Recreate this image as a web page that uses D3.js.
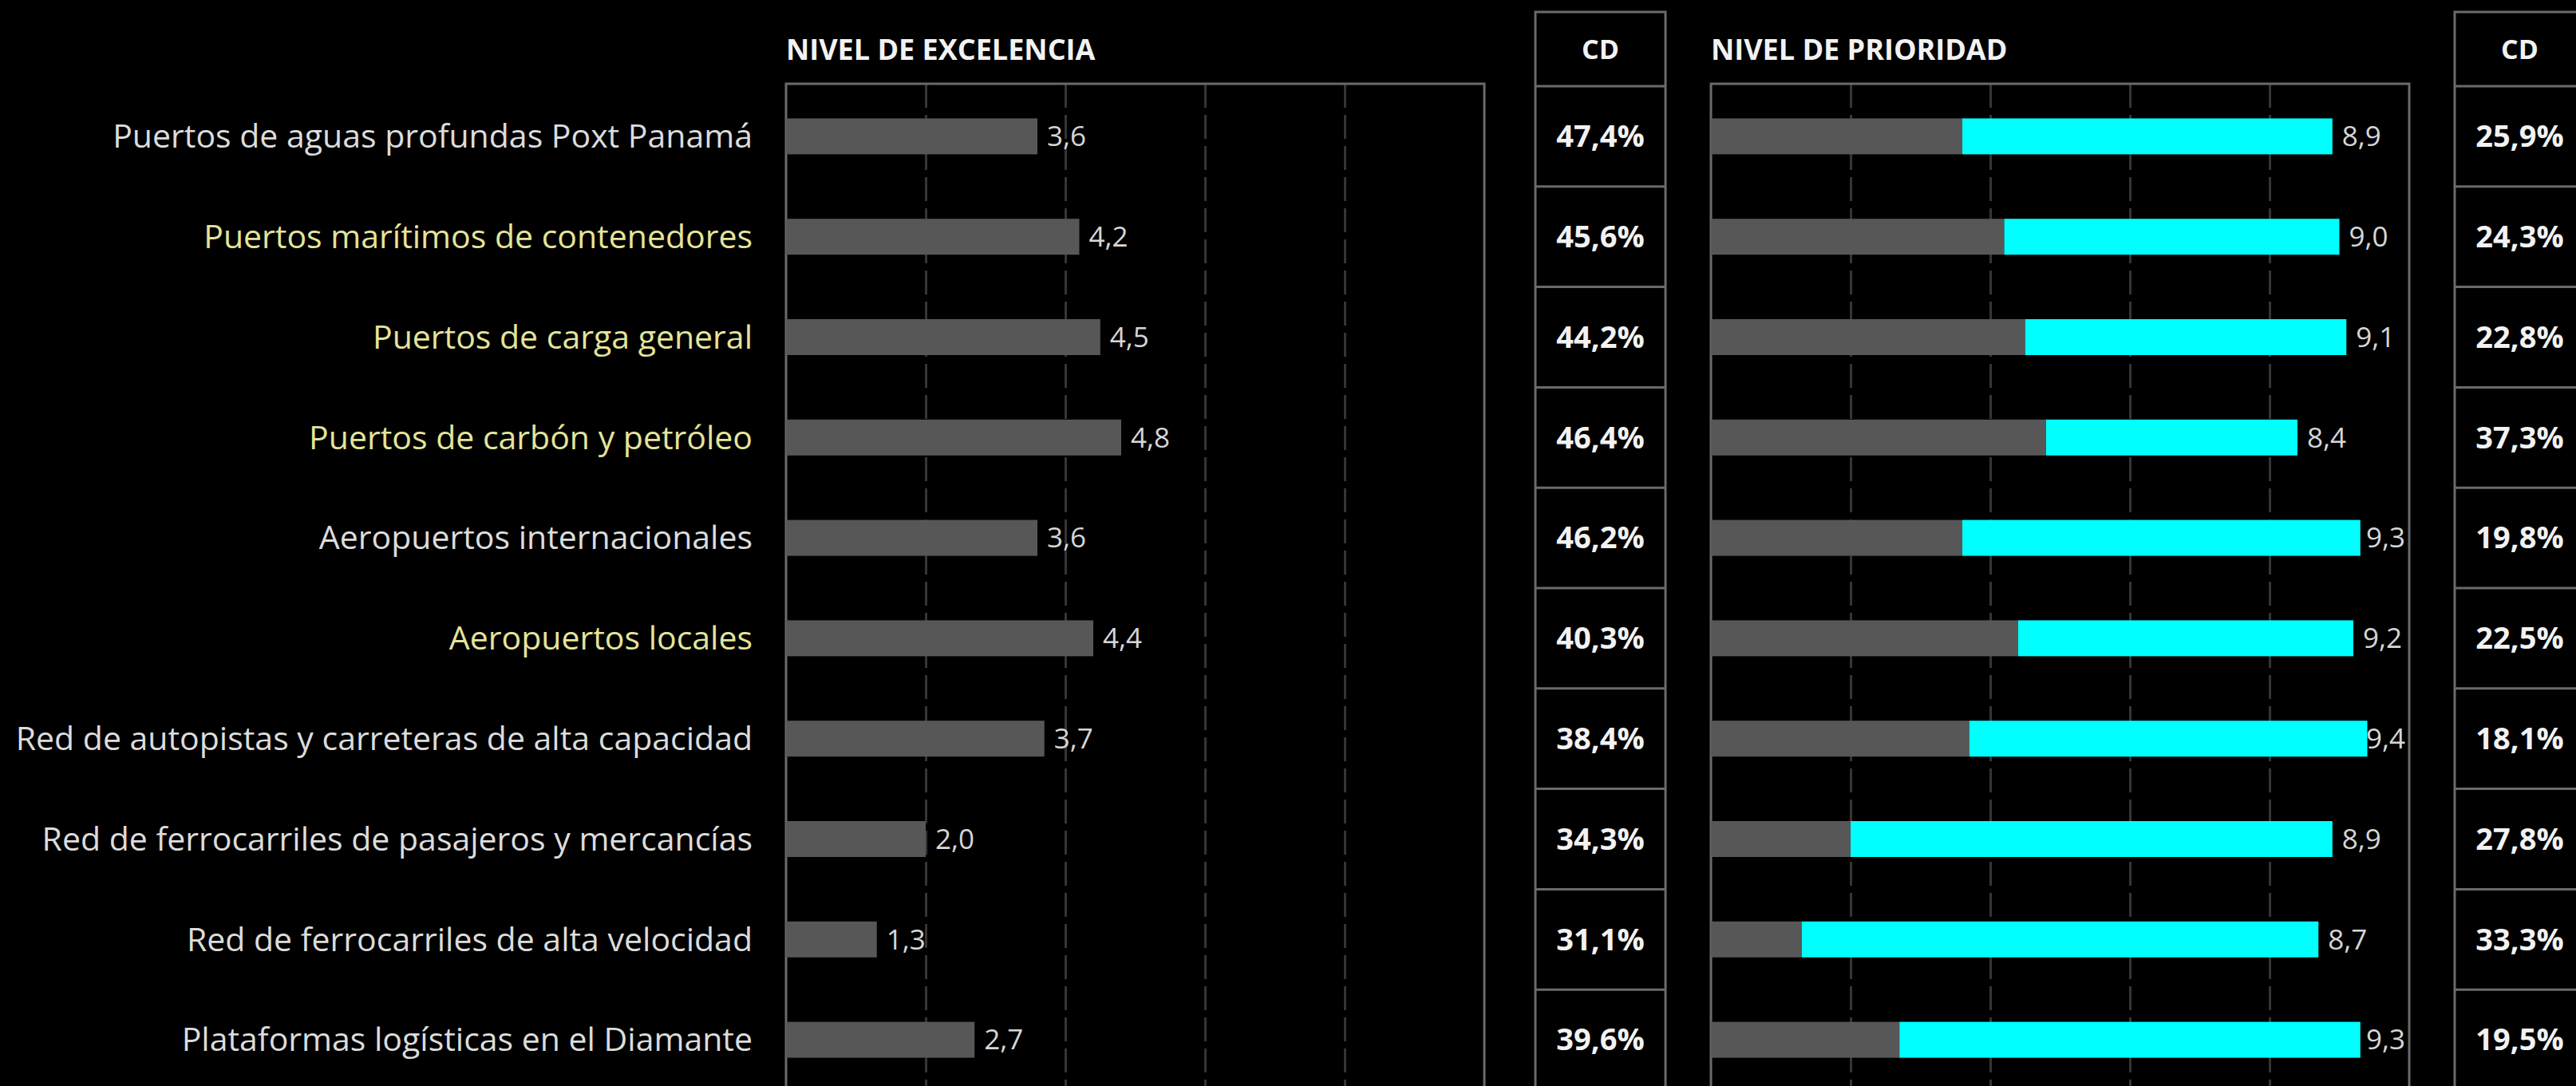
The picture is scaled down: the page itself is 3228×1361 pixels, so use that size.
<!DOCTYPE html>
<html>
<head>
<meta charset="utf-8">
<script src="https://cdn.jsdelivr.net/npm/d3@7"></script>
<style>
  html, body { margin: 0; padding: 0; background: #000; overflow: hidden; }
  svg { display: block; }
  text { font-family: "Open Sans", "Noto Sans", sans-serif; }
</style>
</head>
<body>
<svg id="chart" width="3228" height="1361"></svg>
<script>
// Infraestructura de transporte: nivel de excelencia, nivel de prioridad y CD por categoría
const categories = [
  "Puertos de aguas profundas Poxt Panamá",
  "Puertos marítimos de contenedores",
  "Puertos de carga general",
  "Puertos de carbón y petróleo",
  "Aeropuertos internacionales",
  "Aeropuertos locales",
  "Red de autopistas y carreteras de alta capacidad",
  "Red de ferrocarriles de pasajeros y mercancías",
  "Red de ferrocarriles de alta velocidad",
  "Plataformas logísticas en el Diamante"
];
const highlighted = [
  "Puertos marítimos de contenedores",
  "Puertos de carga general",
  "Puertos de carbón y petróleo",
  "Aeropuertos locales"
];
const excelencia = [3.6, 4.2, 4.5, 4.8, 3.6, 4.4, 3.7, 2.0, 1.3, 2.7];
const prioridad  = [8.9, 9.0, 9.1, 8.4, 9.3, 9.2, 9.4, 8.9, 8.7, 9.3];
const cdExcelencia = [47.4, 45.6, 44.2, 46.4, 46.2, 40.3, 38.4, 34.3, 31.1, 39.6];
const cdPrioridad  = [25.9, 24.3, 22.8, 37.3, 19.8, 22.5, 18.1, 27.8, 33.3, 19.5];
const gridTicks = [2, 4, 6, 8];
const headers = { excelencia: "NIVEL DE EXCELENCIA", prioridad: "NIVEL DE PRIORIDAD", cd: "CD" };

const rows = categories.map((c, i) => ({
  cat: c, exc: excelencia[i], pri: prioridad[i],
  cdE: cdExcelencia[i], cdP: cdPrioridad[i]
}));

const fmt = v => v.toFixed(1).replace(".", ",");
const fmtPct = v => v.toFixed(1).replace(".", ",") + "%";

const svg = d3.select("#chart");
const W = 3228, H = 1361;
svg.append("rect").attr("width", W).attr("height", H).attr("fill", "#000");

const plotTop = 105;
const y = d3.scaleBand().domain(categories).range([108, 108 + 125.8 * categories.length]).padding(0);
const barH = 45;
const plotBottom = H + 10;

const COLORS = {
  gray: "#575757", cyan: "#00ffff", grid: "#353535", frame: "#6a6a6a",
  label: "#dcdcdc", labelHi: "#e4e49a", value: "#d6d6d6", header: "#f2f2f2"
};

// Category labels
svg.append("g").selectAll("text").data(rows).join("text")
  .attr("x", 943)
  .attr("y", d => y(d.cat) + y.bandwidth() / 2)
  .attr("dy", "0.35em")
  .attr("text-anchor", "end")
  .attr("font-size", 41)
  .attr("fill", d => highlighted.includes(d.cat) ? COLORS.labelHi : COLORS.label)
  .text(d => d.cat);

// A bar panel with frame, dashed gridlines, and header
function panel(x0, x1, title) {
  const x = d3.scaleLinear().domain([0, 10]).range([x0, x1]);
  const g = svg.append("g");
  g.append("g")
    .attr("transform", `translate(0,${plotTop})`)
    .call(d3.axisBottom(x).tickValues(gridTicks).tickSize(plotBottom - plotTop).tickFormat(""))
    .call(a => a.select(".domain").remove())
    .call(a => a.selectAll(".tick line")
      .attr("stroke", COLORS.grid).attr("stroke-width", 3).attr("stroke-dasharray", "30,9"));
  g.append("path")
    .attr("d", `M${x0},${plotBottom}V${plotTop}H${x1}V${plotBottom}`)
    .attr("fill", "none").attr("stroke", COLORS.frame).attr("stroke-width", 3);
  svg.append("text")
    .attr("x", x0).attr("y", 62).attr("dy", "0.35em")
    .attr("font-size", 36).attr("font-weight", 700)
    .attr("fill", COLORS.header)
    .text(title);
  return { x, g };
}

// CD column box
function cdBox(x0, x1, values) {
  const g = svg.append("g");
  g.append("path")
    .attr("d", `M${x0},${plotBottom}V15H${x1}V${plotBottom}`)
    .attr("fill", "none").attr("stroke", COLORS.frame).attr("stroke-width", 3);
  const seps = d3.range(categories.length).map(i => y(categories[i]));
  g.selectAll("line.sep").data(seps).join("line")
    .attr("class", "sep")
    .attr("x1", x0).attr("x2", x1)
    .attr("y1", d => d).attr("y2", d => d)
    .attr("stroke", COLORS.frame).attr("stroke-width", 3);
  g.append("text")
    .attr("x", (x0 + x1) / 2).attr("y", 62).attr("dy", "0.35em")
    .attr("text-anchor", "middle")
    .attr("font-size", 34).attr("font-weight", 700).attr("fill", COLORS.header)
    .text(headers.cd);
  g.selectAll("text.val").data(rows).join("text")
    .attr("class", "val")
    .attr("x", (x0 + x1) / 2)
    .attr("y", d => y(d.cat) + y.bandwidth() / 2)
    .attr("dy", "0.35em")
    .attr("text-anchor", "middle")
    .attr("font-size", 38).attr("font-weight", 700).attr("fill", COLORS.header)
    .text((d, i) => fmtPct(values[i]));
}

// Excelencia panel
const pE = panel(985, 1860, headers.excelencia);
pE.g.selectAll("rect.bar").data(rows).join("rect")
  .attr("class", "bar")
  .attr("x", pE.x(0))
  .attr("y", d => y(d.cat) + y.bandwidth() / 2 - barH / 2)
  .attr("width", d => pE.x(d.exc) - pE.x(0))
  .attr("height", barH)
  .attr("fill", COLORS.gray);
pE.g.selectAll("text.v").data(rows).join("text")
  .attr("class", "v")
  .attr("x", d => pE.x(d.exc) + 12)
  .attr("y", d => y(d.cat) + y.bandwidth() / 2)
  .attr("dy", "0.35em")
  .attr("font-size", 35).attr("fill", COLORS.value)
  .text(d => fmt(d.exc));

cdBox(1924, 2087, cdExcelencia);

// Prioridad panel: gray up to excelencia, cyan from excelencia to prioridad
const pP = panel(2144, 3019, headers.prioridad);
pP.g.selectAll("rect.base").data(rows).join("rect")
  .attr("class", "base")
  .attr("x", pP.x(0))
  .attr("y", d => y(d.cat) + y.bandwidth() / 2 - barH / 2)
  .attr("width", d => pP.x(d.exc) - pP.x(0))
  .attr("height", barH)
  .attr("fill", COLORS.gray);
pP.g.selectAll("rect.gap").data(rows).join("rect")
  .attr("class", "gap")
  .attr("x", d => pP.x(d.exc))
  .attr("y", d => y(d.cat) + y.bandwidth() / 2 - barH / 2)
  .attr("width", d => pP.x(d.pri) - pP.x(d.exc))
  .attr("height", barH)
  .attr("fill", COLORS.cyan);
const pLabels = pP.g.selectAll("text.v").data(rows).join("text")
  .attr("class", "v")
  .attr("y", d => y(d.cat) + y.bandwidth() / 2)
  .attr("dy", "0.35em")
  .attr("font-size", 35).attr("fill", COLORS.value)
  .text(d => fmt(d.pri));
pLabels.attr("x", function(d) {
  const w = this.getComputedTextLength();
  return Math.min(pP.x(d.pri) + 12, 3014 - w);
});

cdBox(3076, 3239, cdPrioridad);
</script>
</body>
</html>
